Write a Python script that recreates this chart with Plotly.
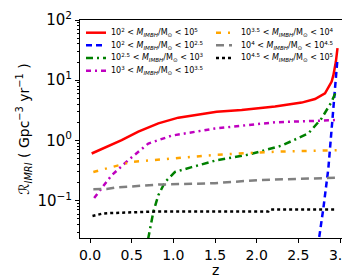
import plotly.graph_objects as go

z_red = [0.02, 0.18, 0.38, 0.58, 0.82, 1.06, 1.30, 1.52, 1.82, 2.22, 2.54, 2.70, 2.82, 2.90, 2.92, 2.95, 2.97]
r_red = [0.607, 0.755, 1.01, 1.40, 1.92, 2.39, 2.71, 3.0, 3.2, 3.65, 4.25, 4.88, 6.07, 9.5, 12, 20, 34]

z_blue = [2.70, 2.75, 2.80, 2.86, 2.91, 2.96, 2.97]
r_blue = [0.008, 0.024, 0.074, 0.34, 2.33, 13, 23]

z_green = [0.69, 0.70, 0.76, 0.82, 0.90, 1.02, 1.22, 1.42, 1.52, 1.90, 2.30, 2.62, 2.78, 2.90, 2.96]
r_green = [0.012, 0.024, 0.065, 0.123, 0.204, 0.30, 0.36, 0.43, 0.47, 0.58, 0.82, 1.31, 2.33, 4.4, 6.9]

z_mag = [0.05, 0.16, 0.26, 0.46, 0.70, 0.98, 1.50, 2.22, 2.96]
r_mag = [0.111, 0.175, 0.264, 0.47, 0.89, 1.2, 1.58, 2.0, 2.18]

z_orange = [0.04, 0.34, 0.5, 1.06, 1.52, 2.22, 2.96]
r_orange = [0.30, 0.39, 0.44, 0.51, 0.58, 0.65, 0.69]

z_gray = [0.04, 0.2, 0.3, 0.82, 1.5, 2.02, 2.96]
r_gray = [0.155, 0.156, 0.165, 0.185, 0.195, 0.22, 0.24]

z_black = [0.03, 0.15, 0.22, 0.78, 2.14, 2.16, 2.96]
r_black = [0.0556, 0.061, 0.062, 0.066, 0.066, 0.0716, 0.0716]

y_tickvals = [0.1, 1, 10, 100]
y_ticktext = ["10<sup>−1</sup>", "10<sup>0</sup>", "10<sup>1</sup>", "10<sup>2</sup>"]
x_tickvals = [0, 0.5, 1, 1.5, 2, 2.5, 3]
x_ticktext = ["0.0", "0.5", "1.0", "1.5", "2.0", "2.5", "3.0"]

M = "<i>M</i><sub><i>IMBH</i></sub>/M<sub>⊙</sub>"
labels = [
    f"10<sup>2</sup> < {M} < 10<sup>5</sup>",
    f"10<sup>2</sup> < {M} < 10<sup>2.5</sup>",
    f"10<sup>2.5</sup> < {M} < 10<sup>3</sup>",
    f"10<sup>3</sup> < {M} < 10<sup>3.5</sup>",
    f"10<sup>3.5</sup> < {M} < 10<sup>4</sup>",
    f"10<sup>4</sup> < {M} < 10<sup>4.5</sup>",
    f"10<sup>4.5</sup> < {M} < 10<sup>5</sup>",
]

series = [
    (z_red, r_red, "red", "solid"),
    (z_blue, r_blue, "blue", "6px,4px"),
    (z_green, r_green, "green", "7px,4px,2px,4px"),
    (z_mag, r_mag, "#bf00bf", "5px,4px,2px,4px"),
    (z_orange, r_orange, "orange", "5px,7px,2px,7px"),
    (z_gray, r_gray, "gray", "8px,5px"),
    (z_black, r_black, "black", "dot"),
]

W, H = 350, 277
ML, MR, MT, MB = 72, 8, 12, 47
PW, PH = W - ML - MR, H - MT - MB


def px2paper(px, py):
    return (px - ML) / PW, 1 - (py - MT) / PH


fig = go.Figure()
font_family = "DejaVu Sans"
shapes = []
annotations = []
legend_rows = [24.7, 37.3, 49.9, 62.7]
for i, ((zz, rr, col, dash), lab) in enumerate(zip(series, labels)):
    fig.add_trace(go.Scatter(x=zz, y=rr, mode="lines", name=lab, showlegend=False,
                             line=dict(color=col, width=2.5, dash=dash)))
    if i < 4:
        lx0, lx1, tx, row = 78, 98, 101, legend_rows[i]
    else:
        lx0, lx1, tx, row = 208, 224, 231, legend_rows[i - 4]
    x0, y0 = px2paper(lx0, row)
    x1, _ = px2paper(lx1, row)
    shapes.append(dict(type="line", xref="paper", yref="paper", x0=x0, x1=x1, y0=y0, y1=y0,
                       line=dict(color=col, width=2.5, dash=dash)))
    xt, _ = px2paper(tx, row)
    annotations.append(dict(xref="paper", yref="paper", x=xt, y=y0, xanchor="left",
                            yanchor="middle", text=lab, showarrow=False,
                            font=dict(size=8, family=font_family, color="black")))

# x-axis title placed as text below the tick labels
zx, zy = px2paper(206, 262)
annotations.append(dict(xref="paper", yref="paper", x=0.5, y=zy, xanchor="center",
                        yanchor="middle", text="z", showarrow=False, borderpad=0,
                        font=dict(size=14, family=font_family, color="black")))

fig.update_layout(
    width=W, height=H,
    margin=dict(l=ML, r=MR, t=MT, b=MB),
    paper_bgcolor="white", plot_bgcolor="white",
    font=dict(family=font_family, color="black"),
    showlegend=False,
    shapes=shapes,
    annotations=annotations,
    xaxis=dict(range=[-0.12, 3.12], tickvals=x_tickvals, ticktext=x_ticktext,
               ticks="outside", ticklen=4, tickcolor="black",
               showline=True, linecolor="black", linewidth=1, mirror=True,
               showgrid=False, zeroline=False, automargin=False,
               tickfont=dict(size=14)),
    yaxis=dict(type="log", range=[-1.62, 2], tickmode="array",
               tickvals=y_tickvals, ticktext=y_ticktext,
               ticks="outside", ticklen=4, tickcolor="black",
               minor=dict(ticks="outside", ticklen=2, tickcolor="black", dtick="D1"),
               showline=True, linecolor="black", linewidth=1, mirror=True,
               showgrid=False, zeroline=False, automargin=False,
               tickfont=dict(size=15),
               title=dict(text="<i>ℛ</i><sub><i>IMRI</i></sub> ( Gpc<sup>−3</sup> yr<sup>−1</sup> )",
                          font=dict(size=14), standoff=4)),
)

fig.write_html("out.html")
